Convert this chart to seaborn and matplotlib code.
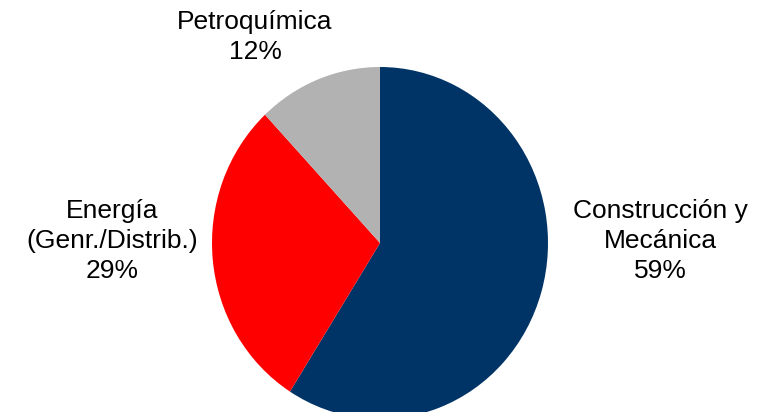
import matplotlib
matplotlib.use("Agg")
import matplotlib.pyplot as plt
import seaborn as sns

labels = ["Construcción y\nMecánica", "Energía\n(Genr./Distrib.)", "Petroquímica"]
values = [59, 29, 12]
colors = ["#003366", "#FF0000", "#B2B2B2"]

sns.set_theme(style="white")
plt.rcParams["font.family"] = ["Liberation Sans", "DejaVu Sans"]

W, H = 758, 412
fig = plt.figure(figsize=(W / 100, H / 100), dpi=100)
ax = fig.add_axes([0, 0, 1, 1])
ax.pie(values, colors=sns.color_palette(colors), startangle=90, counterclock=False,
       radius=1, center=(0, 0), wedgeprops=dict(linewidth=0))
cx, cy, rx, ry = 380, 243, 168, 176
ax.set_xlim(-cx / rx, (W - cx) / rx)
ax.set_ylim(-(H - cy) / ry, cy / ry)
ax.set_aspect("auto")
ax.axis("off")

label_pos = [(660, 241), (112, 241), (255, 37)]
for lab, v, (px, py) in zip(labels, values, label_pos):
    fig.text(px / W, 1 - py / H, f"{lab}\n{v}%", ha="center", va="center",
             fontsize=19, color="black", linespacing=1.3)

fig.savefig("out.png", dpi=100)
